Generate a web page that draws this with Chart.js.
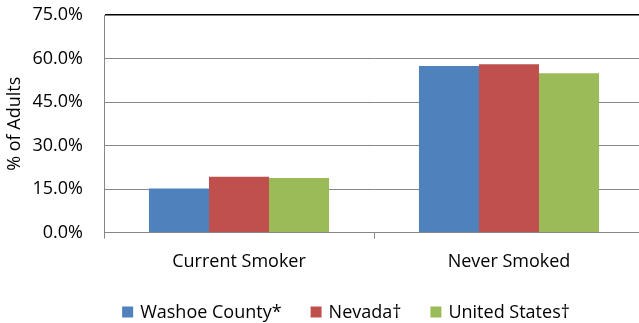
<!DOCTYPE html>
<html>
<head>
<meta charset="utf-8">
<script src="https://cdn.jsdelivr.net/npm/chart.js@4.4.0/dist/chart.umd.min.js"></script>
<style>
  html, body { margin: 0; padding: 0; overflow: hidden; background: #fff; }
  canvas { display: block; }
</style>
</head>
<body>
<canvas id="smokeChart" width="692" height="323" style="width:692px;height:323px"></canvas>
<script>
// data
var categories = ['Current Smoker', 'Never Smoked'];
var seriesNames = ['Washoe County*', 'Nevada\u2020', 'United States\u2020'];
var washoe = [15.2, 57.4];
var nevada = [19.2, 58.0];
var unitedStates = [18.8, 54.9];
var yTicks = [0, 15, 30, 45, 60, 75];

var colors = ['#4F81BD', '#C0504D', '#9BBB59'];

Chart.defaults.font.family = "'Open Sans', 'DejaVu Sans', sans-serif";
Chart.defaults.font.size = 18;
Chart.defaults.color = '#000';

// legend drawn below the axis like the excel one
var bottomLegend = {
    id: 'bottomLegend',
    afterDraw: function (chart) {
        var c = chart.ctx;
        var sets = chart.data.datasets;
        var box = 11, gap = 7, between = 29;
        c.save();
        c.font = "18px 'Open Sans', 'DejaVu Sans', sans-serif";
        c.textBaseline = 'middle';
        var widths = sets.map(function (d) { return c.measureText(d.label).width; });
        var total = 0;
        widths.forEach(function (w, i) { total += box + gap + w + (i ? between : 0); });
        var x = 346 - total / 2;
        var y = 313;
        sets.forEach(function (d, i) {
            c.fillStyle = d.backgroundColor;
            c.fillRect(x, y - box / 2 - 1, box, box);
            c.fillStyle = '#000';
            c.fillText(d.label, x + box + gap, y);
            x += box + gap + widths[i] + between;
        });
        c.restore();
    }
};

var ctx = document.getElementById('smokeChart').getContext('2d');

new Chart(ctx, {
    type: 'bar',
    data: {
        labels: categories,
        datasets: [washoe, nevada, unitedStates].map(function (vals, i) {
            return {
                label: seriesNames[i],
                data: vals,
                backgroundColor: colors[i],
                borderWidth: 0,
                barPercentage: 1,
                categoryPercentage: 0.667
            };
        })
    },
    options: {
        responsive: false,
        animation: false,
        layout: { padding: { top: 15, left: 0, right: 48, bottom: 50.5 } },
        plugins: {
            tooltip: { enabled: false },
            legend: { display: false }
        },
        scales: {
            x: {
                grid: {
                    offset: true,
                    drawOnChartArea: false,
                    drawTicks: true,
                    tickLength: 6,
                    color: '#868686'
                },
                border: { display: true, color: '#868686', width: 1 },
                ticks: { padding: 13, font: { size: 18 }, color: '#000' },
                afterFit: function (scale) { scale.height = 40; }
            },
            y: {
                min: 0,
                max: 75,
                afterBuildTicks: function (scale) {
                    scale.ticks = yTicks.map(function (v) { return { value: v }; });
                },
                grid: {
                    drawTicks: false,
                    color: function (c) {
                        return c.tick && c.tick.value === 75 ? '#000' : '#868686';
                    },
                    lineWidth: function (c) {
                        return c.tick && c.tick.value === 75 ? 1.5 : 1;
                    }
                },
                border: { display: true, color: '#868686', width: 1 },
                ticks: {
                    padding: 21,
                    font: { size: 18 },
                    color: '#000',
                    callback: function (v) { return v.toFixed(1) + '%'; }
                },
                title: {
                    display: true,
                    text: '% of Adults',
                    font: { size: 18 },
                    color: '#000',
                    padding: { top: 4, bottom: 0 }
                },
                afterFit: function (scale) {
                    scale.width = 104;
                    scale.paddingTop = 0;
                    scale.paddingBottom = 0;
                }
            }
        }
    },
    plugins: [bottomLegend]
});
</script>
</body>
</html>
